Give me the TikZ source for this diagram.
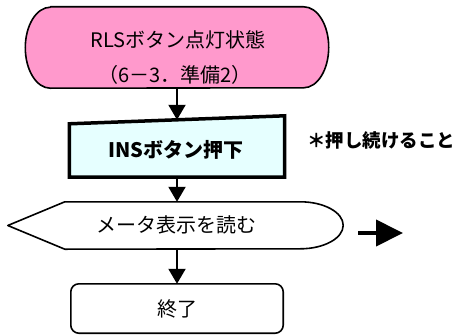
\documentclass[tikz,border=0pt]{standalone}
\usepackage{fontspec}
\setmainfont{Noto Sans CJK JP}
\usetikzlibrary{arrows.meta}
\definecolor{pinkfill}{HTML}{FF99CC}
\definecolor{cyanfill}{HTML}{E6FFFF}
\tikzset{
  arr/.style={line width=2bp,-{Triangle[width=17bp,length=15bp]}},
  bigarr/.style={line width=4bp,-{Triangle[width=26bp,length=27bp]}},
  txt/.style={font=\fontsize{20bp}{24bp}\selectfont,inner sep=0pt},
  outline/.style={line width=1.6bp,line join=round}
}
\begin{document}
\begin{tikzpicture}[x=1bp,y=1bp]
\useasboundingbox (0,0) rectangle (456,334);
% invisible frames for the shapes
\node[inner sep=0pt,minimum width=303bp,minimum height=81bp] (start) at (177,286.5) {};
\node[inner sep=0pt,minimum width=215bp,minimum height=57bp] (ins) at (177,185.5) {};
\node[inner sep=0pt,minimum width=335bp,minimum height=47bp] (disp) at (175.5,108.5) {};
\node[inner sep=0pt,minimum width=212bp,minimum height=49bp] (fin) at (177,25.5) {};
% start terminator
\draw[outline,fill=pinkfill] ([xshift=25bp]start.north west) -- ([xshift=-25bp]start.north east)
  arc[start angle=90,end angle=-90,x radius=25bp,y radius=40.5bp]
  -- ([xshift=25bp]start.south west)
  arc[start angle=270,end angle=90,x radius=25bp,y radius=40.5bp] -- cycle;
\node[txt] (st1) at (178,294) {RLSボタン点灯状態};
\node[txt] (st2) at (175,259) {（6－3．準備2）};
% manual operation box
\draw[line width=3.5bp,fill=cyanfill,line join=miter]
  ([yshift=-4bp]ins.north west) -- ([yshift=4bp]ins.north east) -- (ins.south east) -- (ins.south west) -- cycle;
\node[txt,font=\fontsize{20bp}{24bp}\selectfont\bfseries] (inst) at (176,184) {INSボタン押下};
\node[txt,font=\fontsize{18.5bp}{22bp}\selectfont\bfseries] (note) at (381,194) {＊押し続けること};
% display shape
\draw[outline,fill=white] (disp.west) -- ([xshift=57bp]disp.north west) -- ([xshift=-43bp]disp.north east)
  arc[start angle=90,end angle=-90,x radius=43bp,y radius=23.5bp]
  -- ([xshift=57bp]disp.south west) -- cycle;
\node[txt] (dispt) at (176,109) {メータ表示を読む};
\coordinate (ra) at (358,101);
\coordinate (rb) at (403,101);
\draw[bigarr] (ra) -- (rb);
% end box
\draw[outline,rounded corners=8bp,fill=white] (fin.north west) rectangle (fin.south east);
\node[txt] (fint) at (fin.center) {終了};
% connectors
\draw[arr] (start.south) -- (ins.north);
\draw[arr] (ins.south) -- (ins.south |- disp.north);
\draw[arr] (ins.south |- disp.south) -- (fin.north);
\end{tikzpicture}
\end{document}
